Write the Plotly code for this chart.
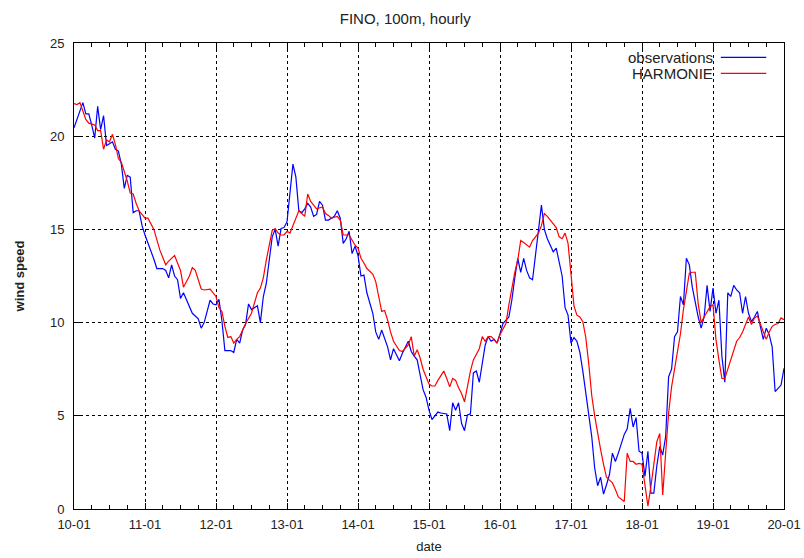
import pandas as pd
import plotly.graph_objects as go

start = pd.Timestamp("2011-01-10 00:00")

obs_hours = [0,1,2,3,4,5,6,7,8,9,10,11,12,13,14,15,16,17,18,19,20,21,22,23,24,26,27,28,30,31,32,33,34,35,36,37,39,40,42,43,44,45,46,47,48,49,50,51,52,53,54,55,56,57,58,59,60,61,62,63,64,65,66,67,68,69,70,71,72,73,74,75,76,77,78,79,80,81,82,83,84,85,86,87,88,89,90,91,92,93,94,95,96,97,98,99,101,102,103,104,106,107,108,110,111,113,114,115,116,117,118,119,120,121,123,124,126,127,128,129,130,131,132,133,134,135,136,137,138,139,140,141,142,143,144,145,147,148,149,150,151,152,153,154,155,156,157,158,159,160,161,162,163,164,165,166,167,168,169,170,171,172,173,174,175,176,177,178,179,180,181,182,183,184,185,186,187,188,189,190,191,192,193,194,195,196,197,198,199,200,201,202,203,204,205,206,207,208,209,210,211,212,213,214,215,216,217,218,219,220,221,222,223,224,225,226,227,228,229,230,231,232,233,234,235,236,237,239,240]
obs_speed = [20.45,20.9,21.25,21.8,21.2,21.2,20.6,19.9,21.6,20.35,21.1,19.5,19.6,19.7,19.3,19.2,18.5,17.2,17.9,17.8,15.9,16.0,16.0,15.2,14.7,13.9,13.4,12.9,12.9,12.8,12.4,13.1,12.5,12.3,11.3,11.6,10.8,10.5,10.2,9.7,10.0,10.6,11.2,11.0,10.95,11.25,10.1,8.5,8.5,8.5,8.4,9.1,8.9,9.6,9.9,11.0,10.7,10.8,10.9,10.0,11.4,12.1,13.4,14.6,15.0,14.1,15.05,15.1,15.4,17.0,18.5,17.8,16.0,15.9,16.1,16.4,16.2,15.7,15.8,16.5,16.3,15.5,15.5,15.6,15.7,16.0,15.6,14.25,14.5,14.9,13.7,14.1,13.6,12.5,12.55,11.6,10.5,9.5,9.1,9.6,8.7,8.0,8.6,7.95,8.35,9.0,8.45,8.2,8.0,7.2,6.4,6.0,5.3,4.8,5.2,5.15,5.1,4.2,5.7,5.3,5.7,4.6,4.2,5.05,5.1,7.3,7.4,6.8,7.8,8.8,9.25,9.0,9.1,8.9,9.4,9.95,10.3,11.2,12.4,13.45,12.7,13.45,12.8,12.4,12.3,13.5,14.95,16.3,15.0,14.5,14.1,13.8,14.0,13.2,12.5,10.8,10.4,8.9,9.2,9.0,8.4,7.4,6.2,5.1,3.9,2.2,1.25,1.7,0.8,1.3,1.85,3.0,2.55,3.0,3.5,4.0,4.3,5.4,4.4,4.9,3.1,3.0,1.75,3.1,0.85,0.85,2.3,3.35,2.9,3.9,7.1,7.5,9.25,9.5,11.4,10.95,13.45,13.1,11.9,11.0,10.3,9.7,10.3,12.0,10.6,11.85,10.5,11.2,8.2,6.8,11.6,11.4,12.0,11.75,11.6,10.5,11.4,10.5,10.05,10.3,10.6,9.8,9.1,9.7,9.35,8.7,6.3,6.65,7.55]

harm_hours = [0,1,2,3,4,5,7,8,9,10,11,12,13,14,15,16,17,18,19,20,21,22,24,25,27,29,31,32,34,36,37,39,40,41,43,44,46,48,49,50,51,52,53,54,55,56,57,58,60,61,62,63,64,65,66,67,68,69,70,71,72,73,74,75,76,77,78,79,80,81,82,84,85,86,87,88,89,90,91,93,94,95,96,97,98,99,101,102,103,104,105,106,107,108,110,111,113,114,115,116,117,118,119,120,121,122,123,125,126,127,128,129,130,131,132,133,134,135,137,138,139,140,141,142,143,144,146,147,148,149,150,151,152,153,154,155,156,157,158,159,160,161,162,163,164,165,166,167,168,169,170,171,172,173,174,175,176,177,178,179,180,181,182,183,184,186,187,188,189,190,191,192,193,194,195,196,197,198,199,200,201,202,203,204,205,206,207,208,209,210,211,212,213,214,215,216,217,218,219,220,221,222,223,224,225,226,227,228,229,230,231,232,233,234,235,236,237,238,239,240]
harm_speed = [21.75,21.7,21.8,21.4,20.9,20.7,20.6,20.3,20.3,19.3,19.8,19.7,20.1,19.55,18.8,18.6,18.1,17.6,16.95,16.9,16.4,16.0,15.6,15.6,15.0,13.9,13.1,13.3,13.6,12.8,11.9,12.5,12.95,12.8,11.8,11.75,11.8,11.4,10.8,10.6,9.8,9.2,9.25,8.9,9.1,9.25,9.6,9.95,10.5,11.1,11.6,11.85,12.4,13.35,14.1,14.95,15.05,14.8,14.7,14.7,14.9,14.8,15.2,15.6,16.0,15.85,15.7,16.9,16.5,16.3,16.1,16.2,15.85,15.75,15.6,15.65,15.7,15.5,14.7,14.7,14.4,14.15,14.0,13.45,13.2,12.9,12.6,12.2,11.4,10.6,10.65,10.15,9.5,9.0,8.5,8.45,8.8,9.25,8.2,8.55,8.1,7.5,7.1,6.7,6.6,6.6,6.9,7.4,7.0,6.55,7.0,6.9,6.5,6.2,5.75,6.6,7.4,8.0,8.6,9.25,9.0,9.25,9.25,9.1,8.9,9.35,9.95,10.95,11.9,12.7,13.35,14.4,14.3,14.15,14.05,14.4,14.6,14.8,15.2,15.85,15.7,15.5,15.3,15.1,14.6,14.5,14.8,14.25,12.6,10.9,10.4,10.3,10.05,9.2,7.8,6.1,5.0,4.0,3.2,2.4,1.7,1.55,1.4,1.05,0.65,0.4,3.0,2.55,2.55,2.4,2.45,2.4,1.4,0.15,1.2,2.4,3.6,4.05,0.75,3.0,5.15,6.55,7.55,8.35,9.4,10.7,11.6,12.65,12.7,12.7,11.0,10.0,10.3,10.6,10.85,10.95,9.1,8.0,7.0,7.0,7.5,7.9,8.45,9.0,9.2,9.5,9.9,10.3,9.9,10.25,10.35,9.95,9.45,9.1,9.5,9.8,9.9,9.95,10.25,10.15]

series_names = ["observations", "HARMONIE"]
series_colors = ["#0000ff", "#ff0000"]

y_ticks = [0, 5, 10, 15, 20, 25]

obs_t = [start + pd.Timedelta(hours=h) for h in obs_hours]
harm_t = [start + pd.Timedelta(hours=h) for h in harm_hours]

fig = go.Figure()
fig.add_trace(go.Scatter(x=obs_t, y=obs_speed, mode="lines", name=series_names[0],
                         line=dict(color=series_colors[0], width=1.2)))
fig.add_trace(go.Scatter(x=harm_t, y=harm_speed, mode="lines", name=series_names[1],
                         line=dict(color=series_colors[1], width=1.2)))

font = "Liberation Sans, Arial, sans-serif"
txt = "#222222"
end = start + pd.Timedelta(days=10)

fig.update_layout(
    width=804, height=558,
    margin=dict(l=74, r=20, t=43, b=49),
    paper_bgcolor="white", plot_bgcolor="white",
    showlegend=False,
    font=dict(family=font, size=13, color=txt),
    title=dict(text="FINO, 100m, hourly", x=0.504, xref="container", xanchor="center",
               y=0.967, yanchor="middle", font=dict(size=15, family=font, color=txt)),
)

fig.update_xaxes(
    type="date", range=[start, end], automargin=False,
    tickformat="%d-%m", dtick=86400000, tick0=start,
    ticks="inside", ticklen=6, tickcolor="black",
    showgrid=True, gridcolor="black", griddash="dot", gridwidth=1,
    showline=True, linecolor="black", linewidth=1, mirror="ticks",
    zeroline=False, ticklabelstandoff=3,
    minor=dict(dtick=6 * 3600 * 1000, tick0=start, ticks="inside", ticklen=4, tickcolor="black", showgrid=False),
    title=dict(text="date", font=dict(size=13, family=font, color=txt), standoff=11),
    tickfont=dict(size=13, family=font, color=txt),
)
fig.update_yaxes(
    range=[0, 25], tickvals=y_ticks, automargin=False,
    ticks="inside", ticklen=6, tickcolor="black",
    showgrid=True, gridcolor="black", griddash="dot", gridwidth=1,
    showline=True, linecolor="black", linewidth=1, mirror="ticks",
    zeroline=False, ticklabelstandoff=6,
    title=dict(text="<b>wind speed</b>", font=dict(size=13, family=font, color=txt), standoff=22),
    tickfont=dict(size=13, family=font, color=txt),
)

# gnuplot-style key in the top-right corner
key_rows = [0.969, 0.935]
for name, color, yk in zip(series_names, series_colors, key_rows):
    fig.add_annotation(xref="paper", yref="paper", x=0.901, y=yk, text=name,
                       showarrow=False, xanchor="right", yanchor="middle", borderpad=0,
                       font=dict(size=15, family=font, color=txt))
    fig.add_shape(type="line", xref="paper", yref="paper", x0=0.911, x1=0.975, y0=yk, y1=yk,
                  line=dict(color=color, width=1.2))

fig.write_html("out.html", config={"displayModeBar": False},
               post_script="document.body.style.margin='0';document.body.style.overflow='hidden';")
